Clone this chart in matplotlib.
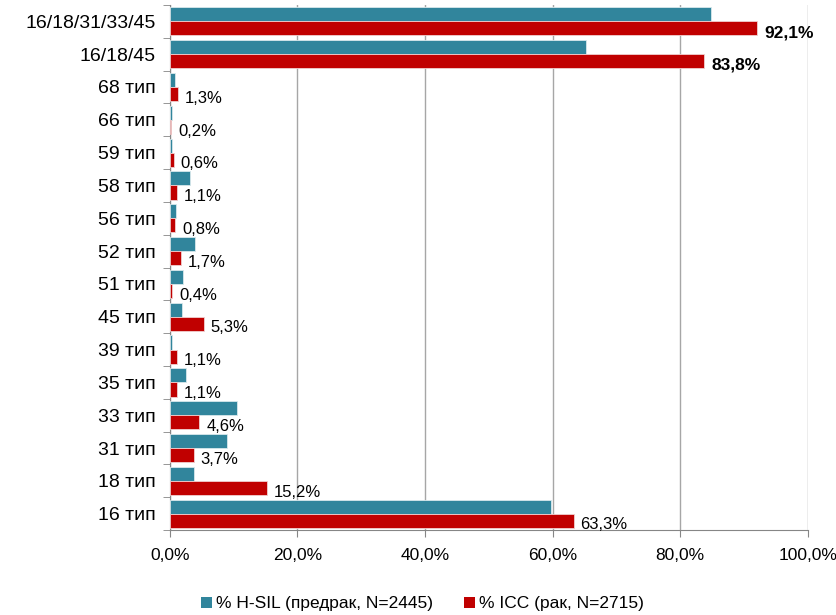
import matplotlib

matplotlib.use("Agg")
import matplotlib.pyplot as plt
import numpy as np
from matplotlib.patches import Patch

plt.rcParams["font.family"] = ["Liberation Sans", "DejaVu Sans"]

CATEGORIES = [
    "16/18/31/33/45", "16/18/45", "68 тип", "66 тип", "59 тип", "58 тип",
    "56 тип", "52 тип", "51 тип", "45 тип", "39 тип", "35 тип", "33 тип",
    "31 тип", "18 тип", "16 тип",
]
HSIL = [84.8, 65.2, 0.8, 0.4, 0.3, 3.2, 0.9, 3.9, 2.1, 1.9, 0.4, 2.6, 10.5, 9.0, 3.7, 59.7]
ICC = [92.1, 83.8, 1.3, 0.2, 0.6, 1.1, 0.8, 1.7, 0.4, 5.3, 1.1, 1.1, 4.6, 3.7, 15.2, 63.3]
BOLD = {"16/18/31/33/45", "16/18/45"}
TEAL = "#31859C"
RED = "#C00000"

fig = plt.figure(figsize=(8.37, 6.15), dpi=100)
ax = fig.add_axes([0.203, 0.138, 0.762, 0.854])

n = len(CATEGORIES)
y = np.arange(n)[::-1]
h = 0.43
ax.barh(y + h / 2, HSIL, height=h, color=TEAL, edgecolor="#d8e8ec", linewidth=0.6, zorder=3)
ax.barh(y - h / 2, ICC, height=h, color=RED, edgecolor="#f0d0d0", linewidth=0.6, zorder=3)

for yi, cat, v in zip(y, CATEGORIES, ICC):
    label = f"{v:.1f}%".replace(".", ",")
    ax.annotate(
        label,
        (v, yi - h / 2),
        xytext=(5, -3),
        textcoords="offset points",
        va="center",
        ha="left",
        fontsize=12.5 if cat in BOLD else 12,
        fontweight="bold" if cat in BOLD else "normal",
    )

ticks = [0, 20, 40, 60, 80, 100]
ax.set_xlim(0, 100)
ax.set_ylim(-0.5, n - 0.5)
ax.set_xticks(ticks)
ax.set_xticklabels([f"{t:.1f}%".replace(".", ",") for t in ticks], fontsize=12.5)
ax.set_yticks(y)
ax.set_yticklabels(CATEGORIES, fontsize=14)
ax.set_yticks(np.arange(n + 1) - 0.5, minor=True)
ax.tick_params(axis="y", which="major", length=0, pad=10)
ax.tick_params(axis="y", which="minor", length=5, color="#868686", direction="out")
ax.tick_params(axis="x", length=5, color="#868686", pad=8)
ax.grid(axis="x", color="#a6a6a6", linewidth=1.0, zorder=0)
ax.set_axisbelow(True)
for side in ["top", "right"]:
    ax.spines[side].set_visible(False)
ax.spines["left"].set_color("#868686")
ax.spines["bottom"].set_color("#868686")

fig.legend(
    handles=[
        Patch(facecolor=TEAL, label="% H-SIL (предрак, N=2445)"),
        Patch(facecolor=RED, label="% ICC (рак, N=2715)"),
    ],
    loc="center",
    bbox_to_anchor=(0.505, 0.018),
    ncol=2,
    frameon=False,
    fontsize=12.5,
    handlelength=0.6,
    handleheight=0.6,
    handletextpad=0.25,
    columnspacing=1.8,
    borderpad=0.1,
)

fig.savefig("out.png", dpi=100)
